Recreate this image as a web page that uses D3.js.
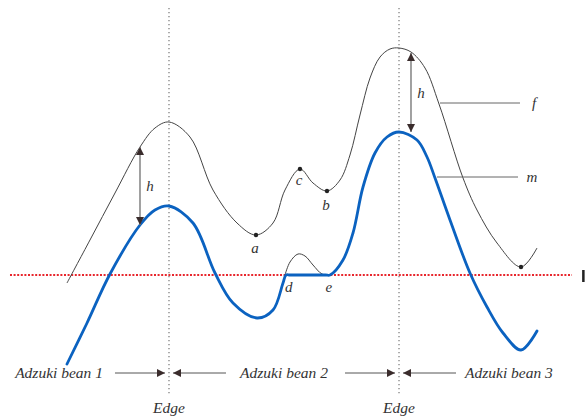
<!DOCTYPE html>
<html><head><meta charset="utf-8">
<script src="https://cdn.jsdelivr.net/npm/d3@7"></script>
<style>html,body{margin:0;padding:0;background:#fff;} svg{display:block;}</style>
</head><body><svg id="c" width="585" height="417"></svg>
<script>
// ---- data (position units 0..100, signal units; threshold = 0) ----
const fX = [0, 4.89, 10.21, 15.53, 18.72, 21.70, 26.17, 31.06, 36.17, 40.21, 43.83, 46.38, 49.57, 52.34, 55.32, 58.09, 60.21, 62.34, 64.47, 66.60, 68.72, 70.64, 73.19, 76.17, 79.15, 84.26, 87.23, 91.49, 96.60, 100];
const fY = [-0.8, 3.5, 8.2, 12.8, 14.7, 15.3, 13.8, 8.5, 5.2, 4.0, 5.2, 8.5, 10.6, 9.2, 8.4, 9.5, 12.0, 16.0, 19.7, 21.8, 22.6, 22.7, 22.3, 20.7, 17.1, 9.7, 6.5, 3.2, 0.8, 2.7];
const mX = [0, 4.26, 9.15, 15.53, 18.72, 21.70, 26.81, 31.49, 35.32, 40.43, 43.83, 45.96, 46.60, 47.5, 55.0, 55.96, 58.72, 60.85, 62.98, 65.53, 68.09, 70.64, 74.47, 76.60, 78.30, 81.49, 85.74, 89.36, 92.77, 96.60, 100];
const mY = [-8.9, -4.8, 0.1, 5.0, 6.5, 6.9, 5.2, 0.2, -2.8, -4.3, -3.5, -0.8, 0, 0, 0, 0, 1.5, 4.2, 8.8, 12.2, 13.8, 14.3, 13.5, 11.8, 9.7, 5.5, 0.2, -3.2, -5.8, -7.5, -5.6];
const bumpX = [46.38, 47.45, 49.15, 50.64, 52.34, 54.26, 55.96];
const bumpY = [0, 1.3, 2.1, 1.9, 1.0, 0.1, 0];
const pointNames = ["a", "c", "b", ""];
const pointX = [40.21, 49.57, 55.32, 96.60];
const pointY = [4.0, 10.6, 8.4, 0.8];
const lineLabels = ["d", "e"];
const lineLabelX = [47.2, 55.7];
const edgeX = [21.70, 70.64];
const edgeLabel = "Edge";
const hArrowX = [15.53, 73.19];
const hTop = [12.8, 22.2];
const hBottom = [5.0, 14.3];
const curveNames = ["f", "m"];
const leaderX0 = [79.36, 78.72];
const leaderX1 = [96.38, 95.96];
const leaderY = [17.2, 9.8];
const beanLabels = ["Adzuki bean 1", "Adzuki bean 2", "Adzuki bean 3"];
const threshold = 0;

// ---- scales ----
const x = d3.scaleLinear().domain([0, 100]).range([67, 537]);
const y = d3.scaleLinear().domain([-10, 25]).range([375, 25]);

const svg = d3.select("#c");
const serif = "'Liberation Serif','DejaVu Serif',serif";
const defs = svg.append("defs");
function marker(id, orient) {
  defs.append("marker").attr("id", id).attr("markerUnits", "userSpaceOnUse")
    .attr("viewBox", "0 0 10 10").attr("refX", 10).attr("refY", 5)
    .attr("markerWidth", 9).attr("markerHeight", 8).attr("orient", orient)
    .append("path").attr("d", "M0,0 L10,5 L0,10 Z").attr("fill", "#3a2c2c");
}
marker("head", "auto");
marker("headStart", "auto-start-reverse");

// vertical edge dotted lines
svg.selectAll(".edge").data(edgeX).join("line")
  .attr("x1", d => x(d)).attr("x2", d => x(d))
  .attr("y1", y(26.7)).attr("y2", y(-12))
  .attr("stroke", "#777").attr("stroke-width", 1.2).attr("stroke-dasharray", "1.3 2.7");

// threshold red dotted line
svg.append("line").attr("x1", x(-12.13)).attr("x2", x(107.45))
  .attr("y1", y(threshold)).attr("y2", y(threshold))
  .attr("stroke", "#e8262d").attr("stroke-width", 2.2).attr("stroke-dasharray", "2 1.6");
svg.append("rect").attr("x", x(109.6)).attr("y", y(0.5)).attr("width", 2.5).attr("height", 12).attr("fill", "#222");

const line = d3.line().x(d => x(d[0])).y(d => y(d[1])).curve(d3.curveCatmullRom.alpha(0.5));

// f curve
svg.append("path").datum(d3.zip(fX, fY)).attr("d", line)
  .attr("fill", "none").attr("stroke", "#444").attr("stroke-width", 1);
// bump
svg.append("path").datum(d3.zip(bumpX, bumpY)).attr("d", line)
  .attr("fill", "none").attr("stroke", "#444").attr("stroke-width", 1);
// m curve
svg.append("path").datum(d3.zip(mX, mY)).attr("d", line)
  .attr("fill", "none").attr("stroke", "#0b62c0").attr("stroke-width", 2.8).attr("stroke-linecap", "round");

// points
svg.selectAll(".pt").data(pointX).join("circle")
  .attr("cx", d => x(d)).attr("cy", (d, i) => y(pointY[i])).attr("r", 2.2).attr("fill", "#222");
svg.selectAll(".ptl").data(pointNames).join("text")
  .attr("x", (d, i) => x(pointX[i]) - 1)
  .attr("y", (d, i) => y(pointY[i]) + [18, 16, 19, 0][i])
  .attr("text-anchor", "middle").attr("font-family", serif).attr("font-style", "italic")
  .attr("font-size", 15).attr("fill", "#333").text(d => d);
svg.selectAll(".ll").data(lineLabels).join("text")
  .attr("x", (d, i) => x(lineLabelX[i])).attr("y", y(threshold) + 17)
  .attr("text-anchor", "middle").attr("font-family", serif).attr("font-style", "italic")
  .attr("font-size", 15).attr("fill", "#333").text(d => d);

// h arrows
hArrowX.forEach((hx, i) => {
  svg.append("line").attr("x1", x(hx)).attr("x2", x(hx))
    .attr("y1", y(hTop[i])).attr("y2", y(hBottom[i]))
    .attr("stroke", "#8a8a8a").attr("stroke-width", 1.6)
    .attr("marker-start", "url(#headStart)").attr("marker-end", "url(#head)");
  svg.append("text").attr("x", x(hx) + 10).attr("y", (y(hTop[i]) + y(hBottom[i])) / 2 + 5)
    .attr("text-anchor", "middle").attr("font-family", serif).attr("font-style", "italic")
    .attr("font-size", 15).attr("fill", "#333").text("h");
});

// leaders
curveNames.forEach((n, i) => {
  svg.append("line").attr("x1", x(leaderX0[i])).attr("x2", x(leaderX1[i]))
    .attr("y1", y(leaderY[i])).attr("y2", y(leaderY[i]))
    .attr("stroke", "#666").attr("stroke-width", 1);
  svg.append("text").attr("x", x(leaderX1[i]) + 14).attr("y", y(leaderY[i]) + 5)
    .attr("text-anchor", "middle").attr("font-family", serif).attr("font-style", "italic")
    .attr("font-size", 15).attr("fill", "#333").text(n);
});

// bottom annotations
const annY = y(-9.8);
edgeX.forEach(ex => {
  const cx = x(ex);
  svg.append("line").attr("x1", cx - 54).attr("x2", cx - 4).attr("y1", annY).attr("y2", annY)
    .attr("stroke", "#555").attr("stroke-width", 1).attr("marker-end", "url(#head)");
  svg.append("line").attr("x1", cx + 57).attr("x2", cx + 4).attr("y1", annY).attr("y2", annY)
    .attr("stroke", "#555").attr("stroke-width", 1).attr("marker-end", "url(#head)");
  svg.append("text").attr("x", cx).attr("y", annY + 40)
    .attr("text-anchor", "middle").attr("font-family", serif).attr("font-style", "italic")
    .attr("font-size", 15.5).attr("fill", "#333").text(edgeLabel);
});
const beanPos = [[x(edgeX[0]) - 66, "end"], [(x(edgeX[0]) + x(edgeX[1])) / 2, "middle"], [x(edgeX[1]) + 66, "start"]];
svg.selectAll(".bean").data(beanLabels).join("text")
  .attr("x", (d, i) => beanPos[i][0]).attr("y", annY + 5)
  .attr("text-anchor", (d, i) => beanPos[i][1]).attr("font-family", serif).attr("font-style", "italic")
  .attr("font-size", 15.5).attr("fill", "#333").text(d => d);
</script></body></html>
